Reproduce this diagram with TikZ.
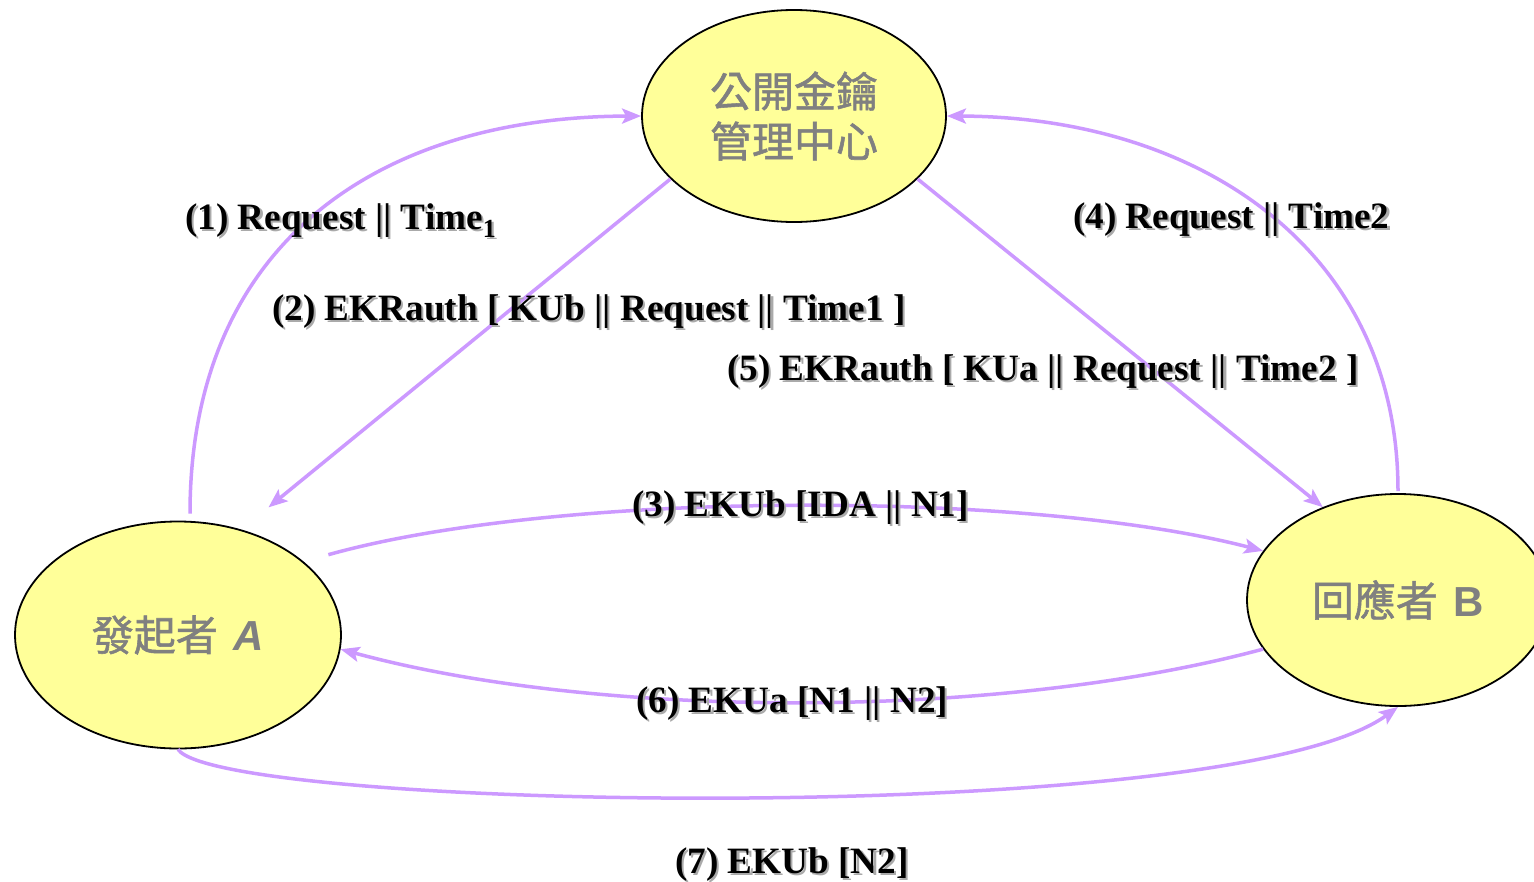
\documentclass[tikz,border=0pt]{standalone}
\usepackage{fontspec}
\setmainfont{Liberation Serif}
\newfontfamily\cjk[FakeBold=1.3]{Noto Sans CJK TC}
\newfontfamily\lat{Liberation Sans}
\usetikzlibrary{shapes.geometric,arrows.meta,calc}
\definecolor{arrc}{RGB}{204,153,255}
\definecolor{fillc}{RGB}{255,255,153}
\definecolor{txtg}{RGB}{128,128,128}
\definecolor{shadowc}{RGB}{170,170,170}
\newcommand\mylab[3]{%
  \node[lab,text=shadowc] at ($(#2)+(2.2,2.2)$) {#3};
  \node[lab] (#1) at (#2) {#3};}
\begin{document}
\begin{tikzpicture}[x=1pt,y=-1pt,
  party/.style={ellipse, draw=black, line width=1.8pt, fill=fillc, inner sep=0pt,
    text=txtg, font=\cjk\fontsize{42}{50}\selectfont, align=center},
  arr/.style={draw=arrc, line width=3.5pt, -{Stealth[length=19pt,width=15pt,inset=4pt]}},
  lab/.style={anchor=base west, inner sep=0pt, font=\bfseries\fontsize{37.2}{40}\selectfont}]
\useasboundingbox[fill=white] (0,0) rectangle (1534,881);

\node[party, minimum width=304pt, minimum height=212pt] (T) at (794,116) {公開金鑰\\管理中心};
\node[party, minimum width=326pt, minimum height=227pt] (A) at (178,635) {發起者\hspace{16pt}{\lat\bfseries\itshape A}};
\node[party, minimum width=302pt, minimum height=212pt] (B) at (1398,600) {回應者\hspace{16pt}{\lat\bfseries B}};

% (1)
\draw[arr] ($(A.north)+(12,-7)$) .. controls (190,250) and (370,117) .. (T.west);
% (4)
\draw[arr] ($(B.north)+(0,-2)$) .. controls (1398,250) and (1200,117) .. (T.east);
% (2)
\draw[arr, shorten >=35pt] (T.207.7) -- (A.59.4);
% (5)
\draw[arr] (T.333.4) -- (B.129.6);
% (3)
\draw[arr] ($(A.28.7)+(20,-11)$) .. controls (560,490) and (1030,490) .. (B.160.6);
% (6)
\draw[arr] (B.200) .. controls (1000,720) and (600,720) .. (A.355.6);
% (7)
\draw[arr] (A.south) .. controls (220,810) and (1230,830) .. (B.south);

\mylab{l1}{185,229}{(1) Request || Time\textsubscript{1}}
\mylab{l2}{272,320}{(2) EKRauth [ KUb || Request || Time1 ]}
\mylab{l3}{632,516}{(3) EKUb [IDA || N1]}
\mylab{l4}{1073,228}{(4) Request || Time2}
\mylab{l5}{727,380}{(5) EKRauth [ KUa || Request || Time2 ]}
\mylab{l6}{636,712}{(6) EKUa [N1 || N2]}
\mylab{l7}{675,873}{(7) EKUb [N2]}
\end{tikzpicture}
\end{document}
